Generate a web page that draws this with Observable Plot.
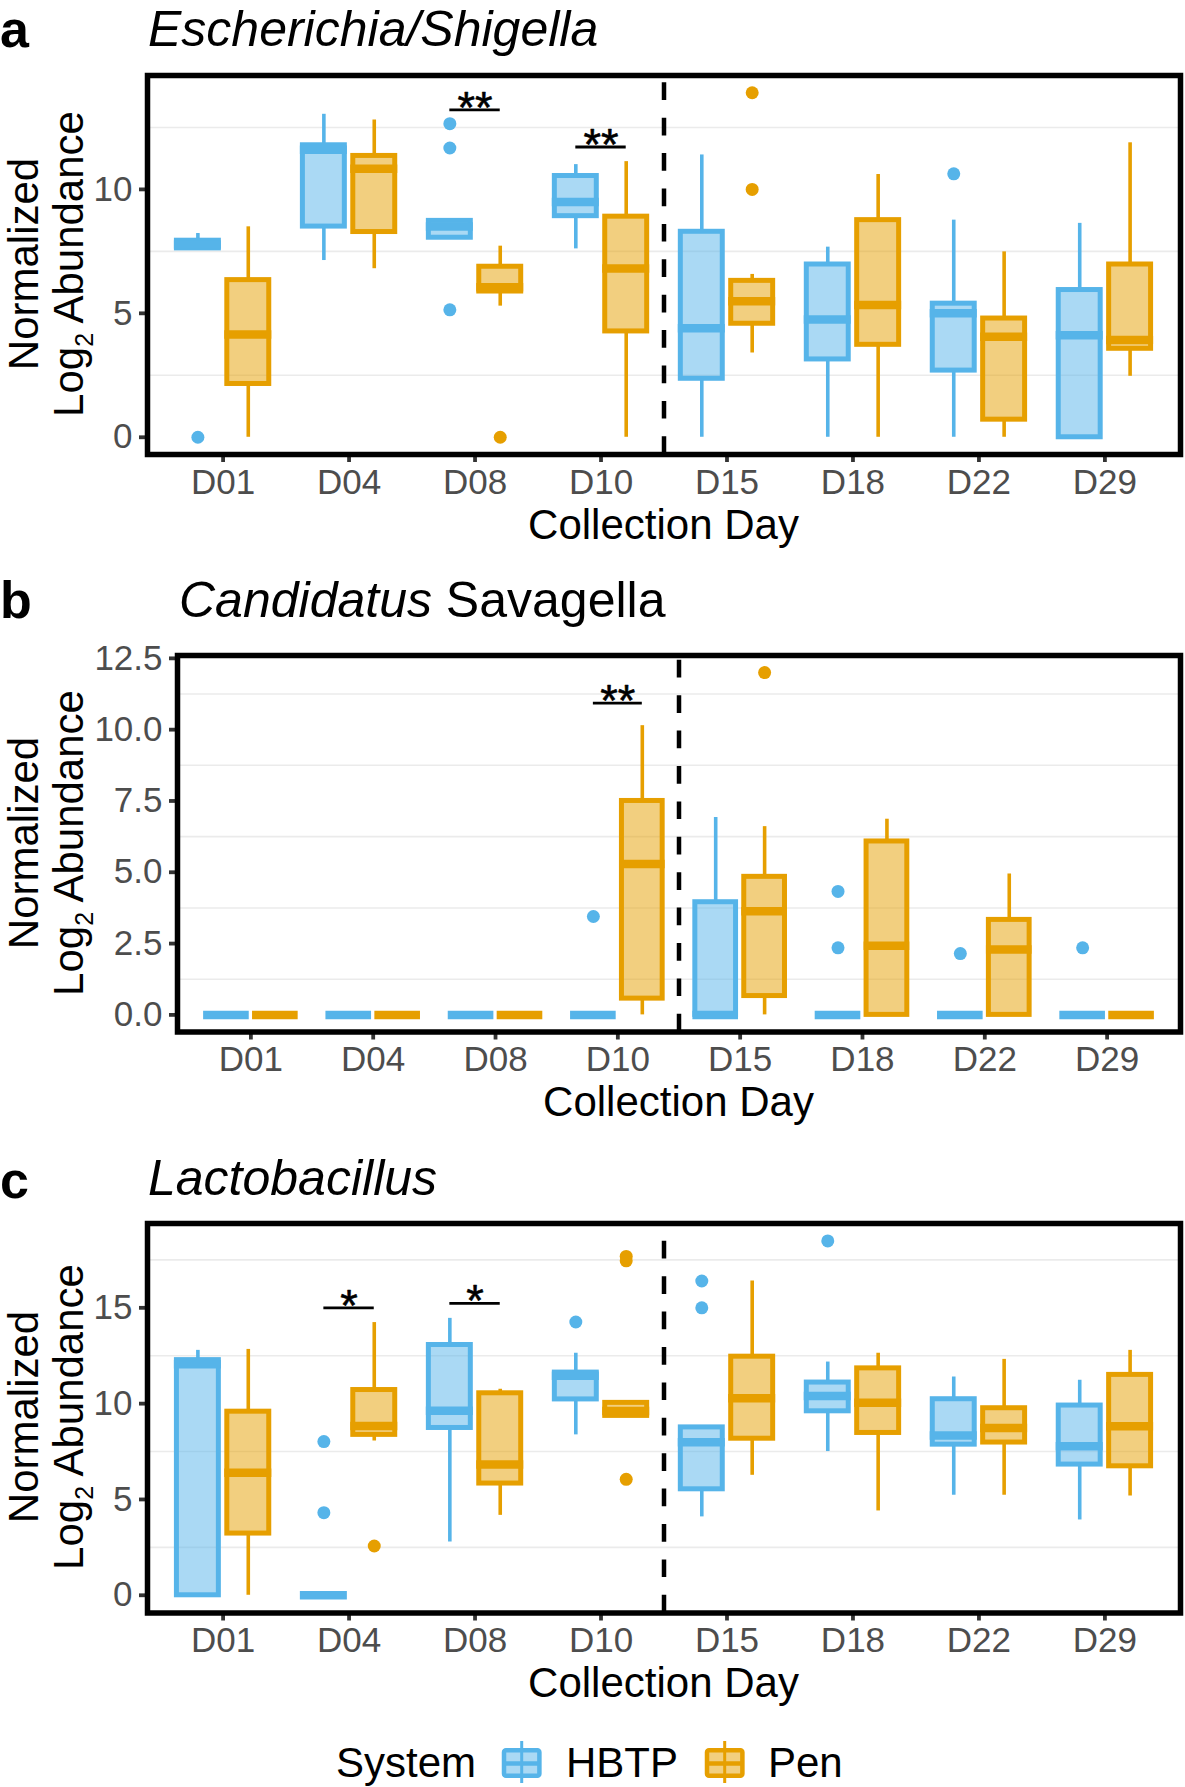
<!DOCTYPE html>
<html>
<head>
<meta charset="utf-8">
<script src="https://cdn.jsdelivr.net/npm/d3@7"></script>
<script src="https://cdn.jsdelivr.net/npm/@observablehq/plot@0.6"></script>
<style>
html,body{margin:0;padding:0;background:#fff;overflow:hidden;}
#root{position:relative;width:1185px;height:1787px;overflow:hidden;font-family:"Liberation Sans",Arial,Helvetica,sans-serif;color:#000;}
.t{position:absolute;white-space:nowrap;}
</style>
</head>
<body>
<div id="root"></div>
<script>
// ---------- data ----------
const days = ["D01", "D04", "D08", "D10", "D15", "D18", "D22", "D29"];
const systems = ["HBTP", "Pen"];
const systemColors = ["#56B4E9", "#E69F00"];

// five-number summaries per day: [lower whisker, Q1, median, Q3, upper whisker]
// a) Escherichia/Shigella
const escHBTP = [[7.62,7.62,7.78,7.93,8.22],[7.13,8.5,11.6,11.78,13.03],[8.05,8.05,8.5,8.73,8.73],[7.6,8.92,9.49,10.54,11.0],
                 [0,2.36,4.4,8.29,11.39],[0,3.14,4.75,6.97,7.67],[0,2.69,5.0,5.39,8.76],[0,0,4.12,5.94,8.63]];
const escPen  = [[0,2.15,4.15,6.34,8.49],[6.8,8.28,10.83,11.35,12.8],[5.29,5.88,6.05,6.88,7.71],[0,4.27,6.81,8.9,11.12],
                 [3.4,4.58,5.49,6.31,6.57],[0,3.73,5.34,8.76,10.6],[0,0.71,4.06,4.79,7.48],[2.46,3.57,3.92,6.97,11.88]];
const escHBTPout = [["D01",0],["D08",12.65],["D08",11.67],["D08",5.14],["D22",10.63]];
const escPenOut  = [["D08",0],["D15",13.9],["D15",10.0]];
const escSig = [["D08","**",13.21],["D10","**",11.71]];

// b) Candidatus Savagella
const savHBTP = [[0,0,0,0,0],[0,0,0,0,0],[0,0,0,0,0],[0,0,0,0,0],
                 [0,0,0,3.95,6.92],[0,0,0,0,0],[0,0,0,0,0],[0,0,0,0,0]];
const savPen  = [[0,0,0,0,0],[0,0,0,0,0],[0,0,0,0,0],[0,0.57,5.29,7.5,10.14],
                 [0,0.66,3.63,4.84,6.6],[0,0,2.42,6.08,6.86],[0,0,2.29,3.33,4.94],[0,0,0,0,0]];
const savHBTPout = [["D10",3.45],["D18",4.33],["D18",2.35],["D22",2.15],["D29",2.35]];
const savPenOut  = [["D15",12.0]];
const savSig = [["D10","**",10.93]];

// c) Lactobacillus
const lacHBTP = [[0,0,12.05,12.27,12.78],[0,0,0,0,0],[2.78,8.73,9.63,13.06,14.45],[8.37,10.22,11.45,11.62,12.63],
                 [4.09,5.53,7.99,8.76,8.76],[7.5,9.6,10.4,11.1,12.17],[5.22,7.86,8.34,10.23,11.39],[3.93,6.82,7.77,9.9,11.22]];
const lacPen  = [[0,3.22,6.4,9.58,12.83],[8.05,8.37,8.83,10.71,14.23],[4.17,5.83,6.82,10.54,10.75],[9.36,9.36,9.61,10.04,10.04],
                 [6.26,8.17,10.28,12.45,16.4],[4.4,8.47,10.05,11.84,12.63],[5.22,7.97,8.73,9.76,12.31],[5.18,6.73,8.82,11.5,12.78]];
const lacHBTPout = [["D04",8.02],["D04",4.31],["D10",14.26],["D15",16.4],["D15",15.0],["D18",18.49]];
const lacPenOut  = [["D04",2.57],["D10",17.68],["D10",17.45],["D10",6.05]];
const lacSig = [["D04","*",15.0],["D08","*",15.23]];

const escTicks = [0, 5, 10],            escGrid = [2.5, 7.5, 12.5];
const savTicks = [0, 2.5, 5, 7.5, 10, 12.5], savGrid = [1.25, 3.75, 6.25, 8.75, 11.25];
const lacTicks = [0, 5, 10, 15],        lacGrid = [2.5, 7.5, 12.5, 17.5];

// ---------- layout helpers ----------
const root = document.getElementById("root");
const FONT = '"Liberation Sans", Arial, Helvetica, sans-serif';
// place text by its baseline (Liberation Sans metrics: ascent .905, descent .212)
function addText(html, x, baseline, fs, extra = {}, lh = fs) {
  const d = document.createElement("div");
  d.className = "t";
  d.style.left = x + "px";
  d.style.top = (baseline - (lh / 2 + 0.3465 * fs)) + "px";
  d.style.fontSize = fs + "px";
  d.style.lineHeight = lh + "px";
  Object.assign(d.style, extra);
  d.innerHTML = html;
  root.appendChild(d);
  return d;
}
// rotated line whose baseline sits at screen x = baselineX, centred on centerY
function addRotLine(html, baselineX, centerY, fs) {
  const W = 600, lh = 30;
  const d = document.createElement("div");
  d.className = "t";
  Object.assign(d.style, {
    left: (baselineX - (lh / 2 + 0.3465 * fs)) + "px", top: (centerY + W / 2) + "px", width: W + "px",
    fontSize: fs + "px", lineHeight: lh + "px", textAlign: "center",
    transformOrigin: "0 0", transform: "rotate(-90deg)"
  });
  d.innerHTML = html;
  root.appendChild(d);
}
function addYTitle(centerY) {
  addRotLine("Normalized", 38.4, centerY, 42);
  addRotLine('Log<span style="font-size:25px;position:relative;top:9.5px;line-height:0">2</span> Abundance', 83.4, centerY, 42);
}

const dodge = 0.2, halfBox = 0.1665;
const offset = s => (s === "HBTP" ? -dodge : dodge);
function statRows(sys, stats) {
  return stats.map((s, i) => ({sys, x: i + offset(sys), lo: s[0], q1: s[1], med: s[2], q3: s[3], hi: s[4]}));
}
function outRows(sys, outs) {
  return outs.map(([d, v]) => ({sys, x: days.indexOf(d) + offset(sys), v}));
}

function panel({hbtp, pen, hbtpOut, penOut, sig, yDomain, yTicks, yGrid, yFmt, panelTop, panelBottom, left}) {
  const mt = 20, mb = 50;
  const rows = statRows("HBTP", hbtp).concat(statRows("Pen", pen));
  const outs = outRows("HBTP", hbtpOut).concat(outRows("Pen", penOut));
  const sx = d => days.indexOf(d[0]);
  const chart = Plot.plot({
    width: 1185,
    height: mt + (panelBottom - panelTop) + mb,
    marginTop: mt, marginBottom: mb, marginLeft: left, marginRight: 5,
    x: {domain: [-0.6, days.length - 0.4]},
    y: {domain: yDomain},
    color: {domain: systems, range: systemColors},
    style: {fontFamily: FONT, overflow: "visible", background: "transparent", color: "#4d4d4d"},
    marks: [
      Plot.ruleY(yGrid, {stroke: "#ebebeb", strokeWidth: 1.6}),
      Plot.ruleX(rows, {x: "x", y1: "lo", y2: "q1", stroke: "sys", strokeWidth: 3.6}),
      Plot.ruleX(rows, {x: "x", y1: "q3", y2: "hi", stroke: "sys", strokeWidth: 3.6}),
      Plot.rect(rows, {x1: d => d.x - halfBox, x2: d => d.x + halfBox, y1: "q1", y2: "q3",
                       fill: "sys", fillOpacity: 0.5, stroke: "sys", strokeWidth: 5}),
      Plot.ruleY(rows, {x1: d => d.x - halfBox - 0.02, x2: d => d.x + halfBox + 0.02, y: "med",
                        stroke: "sys", strokeWidth: 8.5}),
      Plot.dot(outs, {x: "x", y: "v", r: 6.5, fill: "sys", stroke: null}),
      Plot.ruleX([3.5], {y1: yDomain[0], y2: yDomain[1], stroke: "black", strokeWidth: 4.5,
                         strokeDasharray: "17.7 17.7"}),
      Plot.ruleY(sig, {x1: d => sx(d) - dodge, x2: d => sx(d) + dodge, y: d => d[2],
                       stroke: "black", strokeWidth: 2.8}),
      Plot.text(sig, {x: sx, y: d => d[2], text: d => d[1], fontSize: 45, lineAnchor: "bottom",
                      dy: 13, fill: "black", stroke: "black", strokeWidth: 0.6}),
      Plot.axisX(d3.range(days.length), {tickFormat: i => days[i], tickSize: 8, tickPadding: 6.5,
                      fontSize: 35, stroke: "#333333", fill: "#4d4d4d", strokeWidth: 3.8, label: null}),
      Plot.axisY(yTicks, {tickFormat: yFmt, tickSize: 8, tickPadding: 7, fontSize: 35,
                      stroke: "#333333", fill: "#4d4d4d", strokeWidth: 3.8, label: null}),
      Plot.frame({stroke: "black", strokeWidth: 5.5})
    ]
  });
  chart.style.position = "absolute";
  chart.style.left = "0px";
  chart.style.top = (panelTop - mt) + "px";
  root.appendChild(chart);
}

// ---------- panel a ----------
panel({hbtp: escHBTP, pen: escPen, hbtpOut: escHBTPout, penOut: escPenOut, sig: escSig,
       yDomain: [-0.695, 14.595], yTicks: escTicks, yGrid: escGrid, yFmt: d3.format("d"),
       panelTop: 74.5, panelBottom: 453.5, left: 147});
addText("a", 0, 47.5, 52, {fontWeight: "bold"}, 40);
addText("<i>Escherichia/Shigella</i>", 148, 46, 50, {}, 36);
addYTitle(264);
addText("Collection Day", 663.5, 539.5, 42, {transform: "translateX(-50%)"});

// ---------- panel b ----------
panel({hbtp: savHBTP, pen: savPen, hbtpOut: savHBTPout, penOut: savPenOut, sig: savSig,
       yDomain: [-0.6, 12.6], yTicks: savTicks, yGrid: savGrid, yFmt: d3.format(".1f"),
       panelTop: 654.5, panelBottom: 1031, left: 177});
addText("b", 0, 618, 52, {fontWeight: "bold"});
addText("<i>Candidatus</i> Savagella", 179, 617, 50);
addYTitle(842.75);
addText("Collection Day", 678.5, 1117, 42, {transform: "translateX(-50%)"});

// ---------- panel c ----------
panel({hbtp: lacHBTP, pen: lacPen, hbtpOut: lacHBTPout, penOut: lacPenOut, sig: lacSig,
       yDomain: [-0.925, 19.4], yTicks: lacTicks, yGrid: lacGrid, yFmt: d3.format("d"),
       panelTop: 1222.5, panelBottom: 1612, left: 147});
addText("c", 0, 1198, 52, {fontWeight: "bold"});
addText("<i>Lactobacillus</i>", 148, 1195, 50);
addYTitle(1417.25);
addText("Collection Day", 663.5, 1698, 42, {transform: "translateX(-50%)"});

// ---------- legend ----------
function key(left, color) {
  const ns = "http://www.w3.org/2000/svg";
  const svg = document.createElementNS(ns, "svg");
  svg.setAttribute("width", 50); svg.setAttribute("height", 50);
  Object.assign(svg.style, {position: "absolute", left: left + "px", top: "1736px"});
  const mk = (tag, attrs) => { const e = document.createElementNS(ns, tag); for (const k in attrs) e.setAttribute(k, attrs[k]); svg.appendChild(e); };
  mk("line", {x1: 24.7, x2: 24.7, y1: 5, y2: 47, stroke: color, "stroke-width": 3});
  mk("rect", {x: 7, y: 14.3, width: 35.4, height: 25.4, rx: 2, fill: color, "fill-opacity": 0.5, stroke: color, "stroke-width": 4.5});
  mk("line", {x1: 7, x2: 42.4, y1: 27.5, y2: 27.5, stroke: color, "stroke-width": 4.7});
  root.appendChild(svg);
}
addText("System", 336, 1777.7, 42, {}, 34);
key(497, systemColors[0]);
addText("HBTP", 566, 1777.7, 42, {}, 34);
key(700, systemColors[1]);
addText("Pen", 768, 1777.7, 42, {}, 34);
</script>
</body>
</html>
